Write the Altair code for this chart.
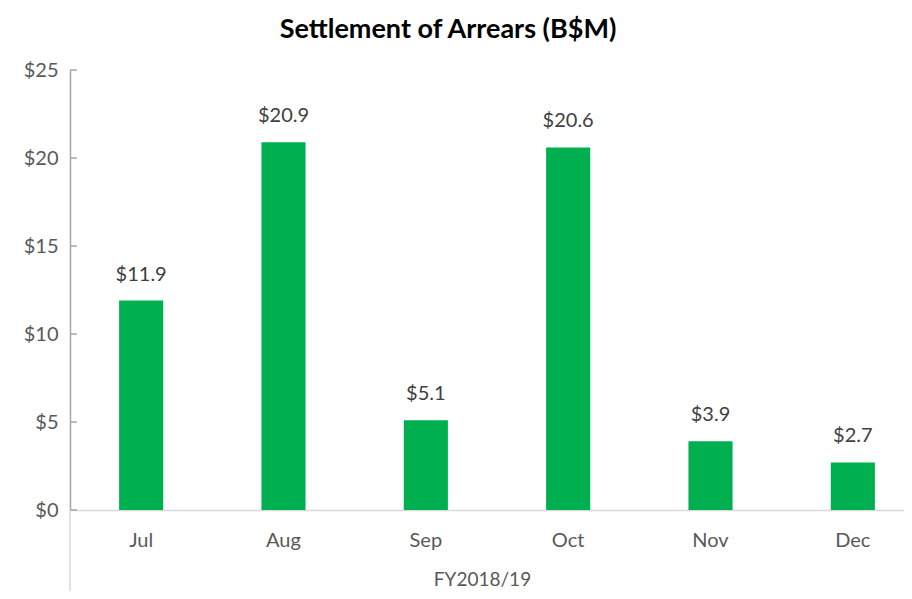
import altair as alt
import pandas as pd

months = ["Jul", "Aug", "Sep", "Oct", "Nov", "Dec"]
values = [11.9, 20.9, 5.1, 20.6, 3.9, 2.7]
labels = ["$11.9", "$20.9", "$5.1", "$20.6", "$3.9", "$2.7"]
y_ticks = [0, 5, 10, 15, 20, 25]
group_label = "FY2018/19"
title_text = "Settlement of Arrears (B$M)"

df = pd.DataFrame({"month": months, "value": values, "label": labels})
ticks_df = pd.DataFrame({"t": y_ticks})

FONT = "Lato"
W, H = 834, 440

xscale = alt.Scale(domain=months, range=[0, 854], paddingInner=0.69, paddingOuter=0.345)
yscale = alt.Scale(domain=[0, 25], nice=False)

x_enc = alt.X("month:N", scale=xscale, sort=months,
              axis=alt.Axis(title=group_label, labelAngle=0, ticks=False,
                            domainColor="#D9D9D9", domainWidth=1.5,
                            labelPadding=20, labelFontSize=20, labelColor="#595959",
                            labelFont=FONT, titleFont=FONT, titleFontSize=19,
                            titleFontWeight="normal", titleColor="#595959",
                            titleX=412, titleY=69, titleBaseline="middle",
                            titleAnchor="start", titleAlign="center"))
y_enc = alt.Y("value:Q", scale=yscale,
              axis=alt.Axis(values=y_ticks, format="$,.0f", title=None, ticks=False,
                            grid=False, domainColor="#A6A6A6", domainWidth=1.5,
                            labelPadding=12, labelFontSize=20, labelColor="#595959",
                            labelFont=FONT))

bars = alt.Chart(df).mark_bar(color="#00B050").encode(x=x_enc, y=y_enc)

text = alt.Chart(df).mark_text(baseline="middle", dy=-26, fontSize=20,
                               font=FONT, color="#404040").encode(
    x=alt.X("month:N", scale=xscale, sort=months),
    y=alt.Y("value:Q", scale=yscale),
    text="label:N")

tick_rules = alt.Chart(ticks_df).mark_rule(color="#A6A6A6", strokeWidth=1.5).encode(
    y=alt.Y("t:Q", scale=yscale), x=alt.value(0), x2=alt.value(7))

sep = alt.Chart(ticks_df.head(1)).mark_rule(color="#D9D9D9", strokeWidth=1.5).encode(
    x=alt.value(0), y=alt.value(H), y2=alt.value(H + 90))

chart = alt.layer(bars, text, tick_rules, sep).properties(
    width=W, height=H,
    title=alt.TitleParams(title_text, font=FONT, fontSize=27, fontWeight="bold",
                          color="#000000", anchor="middle", frame="group",
                          dx=-39, offset=16),
    autosize=alt.AutoSizeParams(type="none"),
    padding={"left": 62, "top": 62, "right": 0, "bottom": 81},
).configure_view(stroke=None)

chart.save("out.html", embed_options={"renderer": "svg", "actions": False})
